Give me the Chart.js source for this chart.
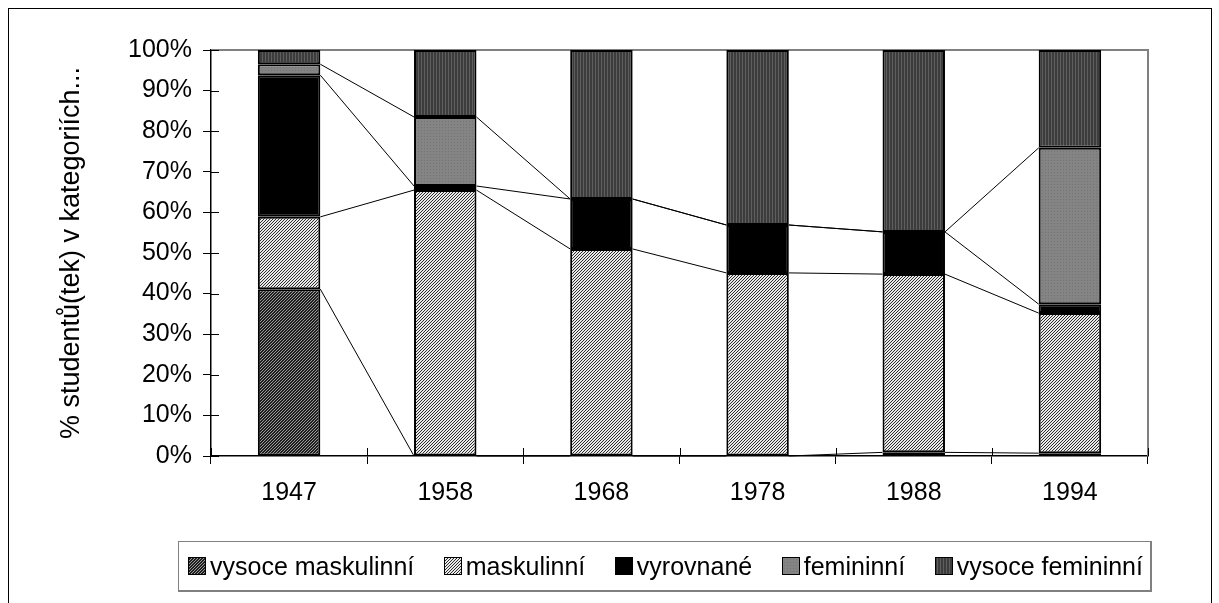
<!DOCTYPE html>
<html>
<head>
<meta charset="utf-8">
<script src="https://cdn.jsdelivr.net/npm/chart.js@4.4.0/dist/chart.umd.min.js"></script>
<style>
  body { margin: 0; background: #fff; overflow: hidden; }
  #wrap { position: relative; width: 1219px; height: 603px; overflow: hidden; }
  #frame { position: absolute; left: 8px; top: 8px; width: 1204px; height: 620px; border: 1px solid #000; box-sizing: border-box; pointer-events: none; }
  #legend { position: absolute; left: 178px; top: 541px; width: 974px; height: 51px; box-sizing: border-box;
    border: 1px solid #808080; border-right-width: 2px; border-bottom-width: 2px;
    padding: 0 7px 0 9px;
    display: flex; align-items: center; justify-content: space-between;
    font: 25px "Liberation Sans", Arial, sans-serif; color: #000; }
  .item { display: flex; align-items: center; white-space: nowrap; }
  .item canvas { width: 16px; height: 16px; border: 1px solid #000; margin-right: 4px; }
</style>
</head>
<body>
<div id="wrap">
  <canvas id="chart" width="1219" height="603"></canvas>
  <div id="frame"></div>
  <div id="legend"></div>
</div>
<script>
const years = ['1947', '1958', '1968', '1978', '1988', '1994'];
const seriesNames = ['vysoce maskulinní', 'maskulinní', 'vyrovnané', 'femininní', 'vysoce femininní'];
const vysoceMaskulinni = [41.1, 0, 0, 0, 0.9, 0.7];
const maskulinni = [17.8, 65.5, 51.0, 45.1, 43.9, 34.5];
const vyrovnane = [34.9, 1.0, 12.3, 11.8, 10.4, 2.2];
const femininni = [2.7, 17.0, 0, 0, 0, 38.5];
const vysoceFemininni = [3.5, 16.5, 36.7, 43.1, 44.8, 24.1];
const yTicks = [0, 10, 20, 30, 40, 50, 60, 70, 80, 90, 100];
const yTitle = '% studentů(tek) v kategoriích...';

// fill patterns, roughly like the old Excel ones
function makeTile(kind) {
  const c = document.createElement('canvas');
  c.width = 3; c.height = 3;
  const g = c.getContext('2d');
  if (kind === 'darkDiag') {
    g.fillStyle = '#1e1e1e'; g.fillRect(0, 0, 3, 3);
    g.fillStyle = '#9a9a9a';
    for (let k = 0; k < 3; k++) g.fillRect(k, 2 - k, 1, 1);
  } else if (kind === 'lightDiag') {
    g.fillStyle = '#e8e8e8'; g.fillRect(0, 0, 3, 3);
    g.fillStyle = '#2e2e2e';
    for (let k = 0; k < 3; k++) g.fillRect(k, 2 - k, 1, 1);
  } else if (kind === 'solid') {
    g.fillStyle = '#000'; g.fillRect(0, 0, 3, 3);
  } else if (kind === 'gray') {
    g.fillStyle = '#848484'; g.fillRect(0, 0, 3, 3);
    g.fillStyle = '#747474'; g.fillRect(1, 1, 1, 1);
  } else {
    g.fillStyle = '#3c3c3c'; g.fillRect(0, 0, 3, 3);
    g.fillStyle = '#5e5e5e'; g.fillRect(1, 0, 1, 3);
  }
  return c;
}
const kinds = ['darkDiag', 'lightDiag', 'solid', 'gray', 'vstripe'];
const ctx = document.getElementById('chart').getContext('2d');
const patterns = kinds.map(k => ctx.createPattern(makeTile(k), 'repeat'));

const values = [vysoceMaskulinni, maskulinni, vyrovnane, femininni, vysoceFemininni];

// plot area outline (top and right), grey like Excel
const plotFrame = {
  id: 'plotFrame',
  beforeDatasetsDraw(chart) {
    const a = chart.chartArea, c = chart.ctx;
    c.save();
    c.strokeStyle = '#808080';
    c.lineWidth = 2;
    c.beginPath();
    c.moveTo(a.left, a.top); c.lineTo(a.right, a.top); c.lineTo(a.right, a.bottom);
    c.stroke();
    // inner half of the cross tick marks
    c.strokeStyle = '#000';
    c.lineWidth = 1;
    const ys = chart.scales.y, xs = chart.scales.x;
    ys.ticks.forEach((t, i) => {
      const py = Math.round(ys.getPixelForTick(i)) + 0.5;
      c.beginPath(); c.moveTo(a.left, py); c.lineTo(a.left + 8, py); c.stroke();
    });
    const step = xs.getPixelForValue(1) - xs.getPixelForValue(0);
    for (let k = 0; k <= years.length; k++) {
      const px = Math.round(xs.getPixelForValue(0) - step / 2 + k * step) + 0.5;
      c.beginPath(); c.moveTo(px, a.bottom); c.lineTo(px, a.bottom - 8); c.stroke();
    }
    c.restore();
  }
};

// series lines joining the top of each series between neighbouring bars
const seriesLines = {
  id: 'seriesLines',
  afterDatasetsDraw(chart) {
    const c = chart.ctx;
    c.save();
    c.strokeStyle = '#000';
    c.lineWidth = 1;
    for (let i = 0; i < chart.data.datasets.length - 1; i++) {
      const bars = chart.getDatasetMeta(i).data;
      for (let j = 0; j < bars.length - 1; j++) {
        const a = bars[j], b = bars[j + 1];
        c.beginPath();
        c.moveTo(a.x + a.width / 2, a.y);
        c.lineTo(b.x - b.width / 2, b.y);
        c.stroke();
      }
    }
    c.restore();
  }
};

Chart.defaults.font.family = '"Liberation Sans", Arial, sans-serif';
Chart.defaults.font.size = 25;
Chart.defaults.color = '#000';

new Chart(ctx, {
  type: 'bar',
  data: {
    labels: years,
    datasets: seriesNames.map((name, i) => ({
      label: name,
      data: values[i],
      backgroundColor: patterns[i],
      borderColor: '#000',
      borderWidth: 2,
      borderSkipped: false,
      barPercentage: 0.4,
      categoryPercentage: 1.0
    }))
  },
  options: {
    responsive: false,
    animation: false,
    devicePixelRatio: 1,
    layout: { padding: { left: 52, top: 50, right: 71, bottom: 87 } },
    plugins: {
      legend: { display: false },
      tooltip: { enabled: false }
    },
    scales: {
      x: {
        stacked: true,
        grid: { drawOnChartArea: false, color: '#000', tickLength: 8 },
        border: { color: '#000', width: 1.5 },
        ticks: { padding: 14 },
        afterFit: s => { s.height = 60; }
      },
      y: {
        stacked: true,
        min: 0,
        max: 100,
        afterBuildTicks: s => { s.ticks = yTicks.map(v => ({ value: v })); },
        grid: { drawOnChartArea: false, color: '#000', tickLength: 8 },
        border: { color: '#000', width: 1.5 },
        ticks: { padding: 11, callback: v => v + '%' },
        title: { display: true, text: yTitle, font: { size: 27 }, padding: { top: 3, bottom: 3 } },
        afterFit: s => { s.width = 159; }
      }
    }
  },
  plugins: [plotFrame, seriesLines]
});

// legend drawn as html so the box can sit where Excel put it
const legend = document.getElementById('legend');
seriesNames.forEach((name, i) => {
  const item = document.createElement('div');
  item.className = 'item';
  const sw = document.createElement('canvas');
  sw.width = 16; sw.height = 16;
  const g = sw.getContext('2d');
  g.fillStyle = g.createPattern(makeTile(kinds[i]), 'repeat');
  g.fillRect(0, 0, 16, 16);
  const txt = document.createElement('span');
  txt.textContent = name;
  item.appendChild(sw);
  item.appendChild(txt);
  legend.appendChild(item);
});
</script>
</body>
</html>
